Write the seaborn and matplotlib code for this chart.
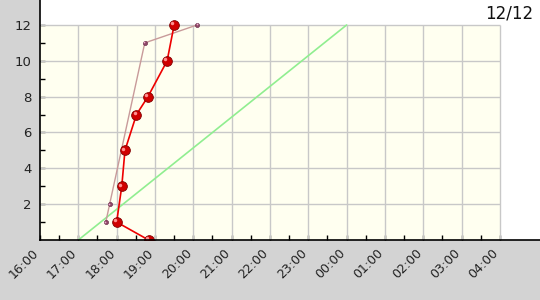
import matplotlib
matplotlib.use("Agg")
import matplotlib.pyplot as plt
import matplotlib.transforms as mtransforms
from matplotlib.patches import Rectangle
import seaborn as sns
import pandas as pd

# ---- data ----
tick_labels = ["16:00", "17:00", "18:00", "19:00", "20:00", "21:00", "22:00",
               "23:00", "00:00", "01:00", "02:00", "03:00", "04:00"]
y_ticks = [2, 4, 6, 8, 10, 12]

red_times = ["18:50", "18:00", "18:08", "18:13", "18:31", "18:49", "19:19", "19:30"]
red_values = [0, 1, 3, 5, 7, 8, 10, 12]

pink_times = ["17:43", "17:49", "18:44", "20:06"]
pink_values = [1, 2, 11, 12]

green_times = ["17:00", "00:00"]
green_values = [0, 12]

title_text = "12/12"


def to_hours(t):
    h, m = t.split(":")
    return (int(h) - 16) % 24 + int(m) / 60.0


red = pd.DataFrame({"x": [to_hours(t) for t in red_times], "y": red_values})
pink = pd.DataFrame({"x": [to_hours(t) for t in pink_times], "y": pink_values})
green = pd.DataFrame({"x": [to_hours(t) for t in green_times], "y": green_values})
tick_pos = list(range(len(tick_labels)))

sns.set_theme(style="white")
plt.rcParams["font.family"] = ["DejaVu Sans"]

W, H = 540, 300
fig = plt.figure(figsize=(W / 100, H / 100), dpi=100, facecolor="white")
# grey frame strips (left and bottom)
fig.patches.append(Rectangle((0, 0), 40 / W, 1, transform=fig.transFigure,
                             color="#d3d3d3", zorder=-10))
fig.patches.append(Rectangle((0, 0), 1, 60 / H, transform=fig.transFigure,
                             color="#d3d3d3", zorder=-10))

ax = fig.add_axes([40 / W, 60 / H, 500 / W, 240 / H])
ax.set_facecolor("white")

xmax = tick_pos[-1]
ymax = y_ticks[-1]
ax.add_patch(Rectangle((0, 0), xmax, ymax, facecolor="#fffff0", edgecolor="none", zorder=0))
ax.vlines(tick_pos[1:], 0, ymax, color="#c8c8c8", lw=1, zorder=1)
ax.hlines(y_ticks, 0, xmax, color="#c8c8c8", lw=1, zorder=1)

# green reference line
sns.lineplot(data=green, x="x", y="y", sort=False, estimator=None, ax=ax,
             color="#90ee90", lw=1.2, zorder=2)
# pink series
sns.lineplot(data=pink, x="x", y="y", sort=False, estimator=None, ax=ax,
             color="#c89a9a", lw=1.0, zorder=3, marker="o", markersize=3,
             markerfacecolor="#904868", markeredgecolor="#602040", markeredgewidth=0.4)
# red series
sns.lineplot(data=red, x="x", y="y", sort=False, estimator=None, ax=ax,
             color="#ee0000", lw=1.2, zorder=4, marker="o", markersize=7,
             markerfacecolor="#d00000", markeredgecolor="#800000", markeredgewidth=0.6)
hl = mtransforms.offset_copy(ax.transData, fig=fig, x=-1.2, y=1.2, units="points")
ax.plot(red["x"], red["y"], linestyle="none", marker="o", markersize=2.5,
        markerfacecolor="#ff9090", markeredgecolor="none", transform=hl, zorder=5)
hl2 = mtransforms.offset_copy(ax.transData, fig=fig, x=-0.4, y=0.4, units="points")
ax.plot(pink["x"], pink["y"], linestyle="none", marker="o", markersize=1.2,
        markerfacecolor="#f0b0d0", markeredgecolor="none", transform=hl2, zorder=5)

ax.set_xlim(0, 500 / 38.33)
ax.set_ylim(0, 240 / 17.92)
ax.set_xlabel("")
ax.set_ylabel("")

ax.set_xticks(tick_pos)
ax.set_xticklabels(tick_labels, rotation=45, ha="right", va="top",
                   rotation_mode="anchor", fontsize=9, color="#222222")
ax.set_xticks([p + 0.5 for p in tick_pos[:-1]], minor=True)
ax.set_yticks(y_ticks)
ax.set_yticklabels([str(v) for v in y_ticks], fontsize=9.5, color="#222222")
ax.set_yticks([v - 1 for v in y_ticks], minor=True)
ax.tick_params(axis="both", which="both", direction="in", length=3.5, width=1,
               color="black", bottom=True, left=True)
ax.tick_params(axis="x", which="major", pad=6)
ax.tick_params(axis="y", which="major", pad=6)

shift = mtransforms.ScaledTranslation(-8 / 100, 2 / 100, fig.dpi_scale_trans)
for lab in ax.get_xticklabels():
    lab.set_transform(lab.get_transform() + shift)

for s in ["top", "right"]:
    ax.spines[s].set_visible(False)
for s in ["left", "bottom"]:
    ax.spines[s].set_color("black")
    ax.spines[s].set_linewidth(1.2)
    ax.spines[s].set_zorder(6)

fig.text(0.987, 0.985, title_text, ha="right", va="top", fontsize=12, color="#111111")

fig.savefig("out.png", dpi=100, facecolor=fig.get_facecolor())
